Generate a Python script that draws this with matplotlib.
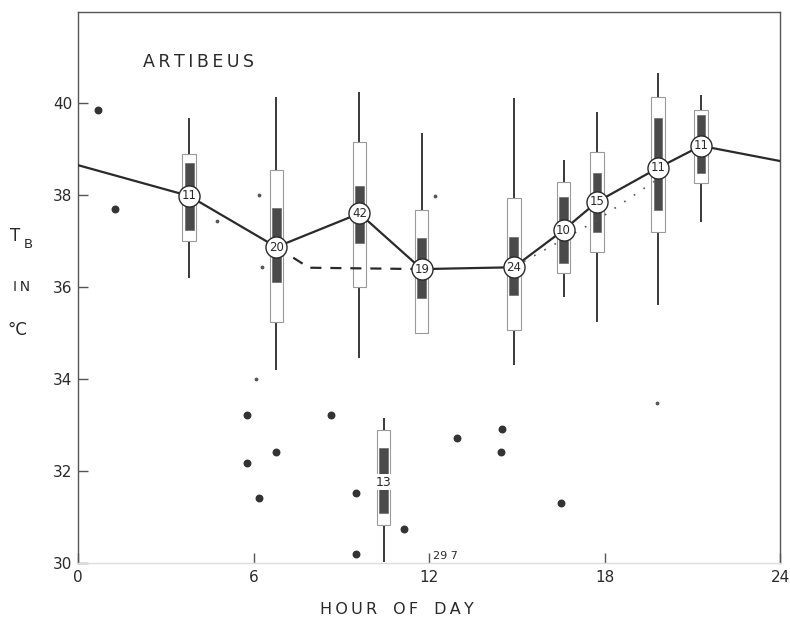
import matplotlib
matplotlib.use("Agg")
import matplotlib.pyplot as plt

# ---- data ----
hours      = [3.8, 6.78, 9.62, 11.75, 14.9, 16.6, 17.74, 19.83, 21.3]
counts     = [11, 20, 42, 19, 24, 10, 15, 11, 11]
means      = [37.98, 36.87, 37.6, 36.39, 36.43, 37.24, 37.85, 38.59, 39.07]
range_hi   = [39.67, 40.13, 40.24, 39.35, 40.1, 38.76, 39.8, 40.65, 40.17]
range_lo   = [36.2, 34.2, 34.46, 35.0, 34.3, 35.78, 35.24, 35.6, 37.41]
box_hi     = [38.9, 38.54, 39.15, 37.67, 37.93, 38.28, 38.93, 40.13, 39.85]
box_lo     = [37.0, 35.24, 36.0, 35.0, 35.07, 36.3, 36.76, 37.2, 38.26]
dark_hi    = [38.7, 37.72, 38.2, 37.07, 37.09, 37.96, 38.48, 39.67, 39.74]
dark_lo    = [37.24, 36.1, 36.96, 35.76, 35.83, 36.52, 37.2, 37.67, 38.48]

# torpid group (no circle)
torpid_hour = 10.45
torpid_n = 13
torpid_label_y = 31.76
torpid_range = (30.02, 33.15)
torpid_box = (30.83, 32.89)
torpid_dark = (31.09, 32.5)

line_start = (0.0, 38.65)
line_end = (24.0, 38.74)

dash_x = [6.78, 7.9, 11.75]
dash_y = [36.87, 36.42, 36.39]

dot_line_x = [14.9, 17.74, 19.83]
dot_line_y = [36.43, 37.45, 38.35]

out_x = [0.68, 1.27, 5.79, 5.79, 6.2, 6.78, 8.66, 9.49, 9.49, 11.16, 12.95, 14.49, 14.45, 16.5]
out_y = [39.85, 37.7, 33.22, 32.17, 31.41, 32.41, 33.22, 31.52, 30.2, 30.74, 32.72, 32.91, 32.41, 31.3]

tiny_x = [6.2, 4.76, 6.3, 6.1, 12.2, 19.8]
tiny_y = [38.0, 37.43, 36.43, 34.0, 37.98, 33.48]

low_note = "29 7"
low_note_x = 12.15

yticks = [30, 32, 34, 36, 38, 40]
xticks = [0, 6, 12, 18, 24]

# ---- figure ----
fig = plt.figure(figsize=(7.9, 6.22), dpi=100)
ax = fig.add_axes([78/790, 1-563/622, 702/790, (563-12)/622])
ax.set_xlim(0, 24)
ax.set_ylim(30, 41.98)

ink = "#2a2a2a"
box_w = 0.46
dark_w = 0.30

# range lines
ax.vlines(hours, range_lo, range_hi, color=ink, lw=1.3, zorder=1)
# white boxes
ax.bar(hours, [h - l for h, l in zip(box_hi, box_lo)], bottom=box_lo, width=box_w,
       color="white", edgecolor="#9a9a9a", lw=0.8, zorder=2)
# dark boxes
ax.bar(hours, [h - l for h, l in zip(dark_hi, dark_lo)], bottom=dark_lo, width=dark_w,
       color="#4a4a4a", edgecolor="#6a6a6a", lw=0.5, zorder=3)

# torpid column
ax.vlines([torpid_hour], [torpid_range[0]], [torpid_range[1]], color=ink, lw=1.3, zorder=1)
ax.bar([torpid_hour], [torpid_box[1] - torpid_box[0]], bottom=[torpid_box[0]], width=box_w,
       color="white", edgecolor="#9a9a9a", lw=0.8, zorder=2)
ax.bar([torpid_hour], [torpid_dark[1] - torpid_dark[0]], bottom=[torpid_dark[0]], width=dark_w,
       color="#4a4a4a", edgecolor="#6a6a6a", lw=0.5, zorder=3)
ax.text(torpid_hour, torpid_label_y, str(torpid_n), ha="center", va="center", fontsize=9,
        color=ink, zorder=6,
        bbox=dict(boxstyle="square,pad=0.15", fc="white", ec="none"))

# mean lines
ax.plot([line_start[0]] + hours + [line_end[0]], [line_start[1]] + means + [line_end[1]],
        color=ink, lw=1.6, zorder=4)
ax.plot(dash_x, dash_y, color=ink, lw=1.6, ls=(0, (5, 4)), zorder=4)
ax.plot(dot_line_x, dot_line_y, color="#555555", lw=1.2, ls=(0, (1, 6)), zorder=4)

# circles with n
ax.scatter(hours, means, s=230, facecolor="white", edgecolor=ink, lw=1.0, zorder=5)
for h, m, n in zip(hours, means, counts):
    ax.text(h, m, str(n), ha="center", va="center", fontsize=8.5, color=ink, zorder=6)

# outliers
ax.scatter(out_x, out_y, s=22, color="#333333", zorder=5)
ax.scatter(tiny_x, tiny_y, s=3, color="#555555", zorder=5)

# note below axis
ax.text(low_note_x, 30.05, low_note, ha="left", va="bottom", fontsize=8, color=ink)

# axes styling
for side in ["left", "top", "right"]:
    ax.spines[side].set_color("#555555")
    ax.spines[side].set_linewidth(1.0)
ax.spines["bottom"].set_color("#dddddd")
ax.spines["bottom"].set_linewidth(1.0)

ax.set_yticks(yticks)
ax.set_yticklabels([str(v) for v in yticks])
ax.set_xticks(xticks)
ax.set_xticklabels([str(v) for v in xticks])
ax.tick_params(axis="y", direction="in", length=7, width=1, colors="#555555",
               labelcolor=ink, labelsize=11, pad=4)
ax.tick_params(axis="x", direction="in", length=7, width=1, colors="#555555",
               labelcolor=ink, labelsize=11, pad=5)

# title inside plot
ax.text(143/790, 1-62/622, "A\u2009R\u2009T\u2009I\u2009B\u2009E\u2009U\u2009S",
        transform=fig.transFigure, ha="left", va="center", fontsize=12.5, color=ink)

# y-axis label (far left)
fig.text(10/790, 1-236/622, "T", ha="left", va="center", fontsize=12, color=ink)
fig.text(24/790, 1-244/622, "B", ha="left", va="center", fontsize=9.5, color=ink)
fig.text(13/790, 1-287/622, "I\u2009N", ha="left", va="center", fontsize=10, color=ink)
fig.text(7/790, 1-330/622, "°C", ha="left", va="center", fontsize=12, color=ink)

# x-axis label
fig.text(397/790, 1-610/622, "H\u2009O\u2009U\u2009R\u2003O\u2009F\u2003D\u2009A\u2009Y",
         ha="center", va="center", fontsize=11.5, color=ink)

fig.savefig("out.png", dpi=100, facecolor="white")
